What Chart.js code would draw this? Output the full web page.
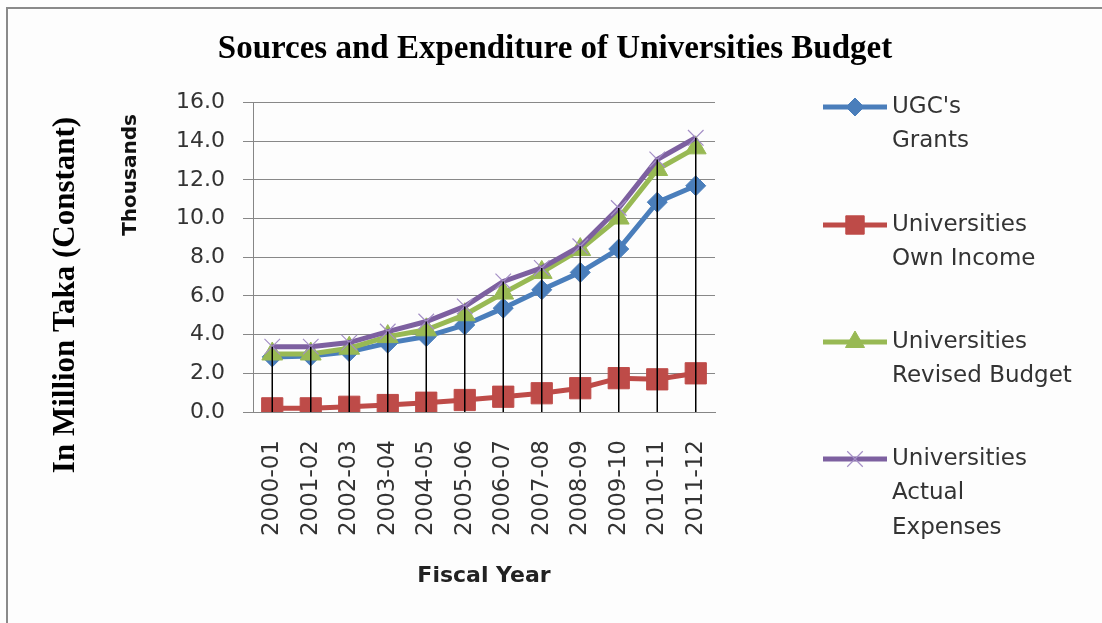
<!DOCTYPE html>
<html>
<head>
<meta charset="utf-8">
<script src="https://cdn.jsdelivr.net/npm/chart.js@4.4.1/dist/chart.umd.min.js"></script>
<style>
  html, body { margin: 0; padding: 0; background: #fdfdfd; }
  #wrap { position: relative; width: 1102px; height: 623px; }
  #frame { position: absolute; left: 6px; top: 7px; right: 0; bottom: 0;
           border-top: 2px solid #8a8a8a; border-left: 2px solid #8a8a8a; pointer-events: none; }
</style>
</head>
<body>
<div id="wrap">
  <canvas id="chart" width="1102" height="623"></canvas>
  <div id="frame"></div>
</div>
<script>
// fiscal years on the x axis
const years = ['2000-01', '2001-02', '2002-03', '2003-04', '2004-05', '2005-06',
               '2006-07', '2007-08', '2008-09', '2009-10', '2010-11', '2011-12'];

// values in thousands of million Taka
const ugcGrants      = [2.85, 2.90, 3.12, 3.56, 3.90, 4.50, 5.37, 6.32, 7.22, 8.43, 10.85, 11.70];
const ownIncome      = [0.19, 0.19, 0.27, 0.36, 0.48, 0.62, 0.79, 0.97, 1.23, 1.75, 1.69, 2.00];
const revisedBudget  = [3.00, 3.00, 3.30, 3.90, 4.25, 5.03, 6.15, 7.22, 8.40, 10.03, 12.54, 13.66];
const actualExpenses = [3.38, 3.38, 3.59, 4.16, 4.68, 5.46, 6.75, 7.45, 8.57, 10.55, 13.06, 14.18];

const legendLines = [
  ["UGC's", 'Grants'],
  ['Universities', 'Own Income'],
  ['Universities', 'Revised Budget'],
  ['Universities', 'Actual', 'Expenses']
];

const sans = '"DejaVu Sans", sans-serif';
const serif = '"Liberation Serif", "DejaVu Serif", serif';

// black drop lines from the highest point of each year down to zero
const dropLines = {
  id: 'dropLines',
  afterDatasetsDraw(chart) {
    const { ctx, scales: { x, y } } = chart;
    ctx.save();
    ctx.strokeStyle = '#000';
    ctx.lineWidth = 1.5;
    years.forEach((_, i) => {
      let top = -Infinity;
      chart.data.datasets.forEach(ds => { top = Math.max(top, ds.data[i]); });
      const px = x.getPixelForValue(i);
      ctx.beginPath();
      ctx.moveTo(px, y.getPixelForValue(top));
      ctx.lineTo(px, y.getPixelForValue(0));
      ctx.stroke();
    });
    ctx.restore();
  }
};

// the two rotated titles on the left sit off-centre in the original, so place them by hand
const leftTitles = {
  id: 'leftTitles',
  afterDraw(chart) {
    const { ctx } = chart;
    const put = (text, font, color, cx, cy) => {
      ctx.save();
      ctx.translate(cx, cy);
      ctx.rotate(-Math.PI / 2);
      ctx.font = font;
      ctx.fillStyle = color;
      ctx.textAlign = 'center';
      ctx.textBaseline = 'middle';
      ctx.fillText(text, 0, 0);
      ctx.restore();
    };
    put('In Million Taka (Constant)', 'bold 31px ' + serif, '#000', 66, 295);
    put('Thousands', 'bold 20px ' + sans, '#111', 131, 175);
  }
};

// legend on the right with wrapped labels, like the spreadsheet one
const sideLegend = {
  id: 'sideLegend',
  afterDraw(chart) {
    const { ctx } = chart;
    const lineX0 = 823, lineX1 = 887, textX = 892;
    const rows = [107, 225, 342, 459];
    ctx.save();
    chart.data.datasets.forEach((ds, i) => {
      const yy = rows[i];
      ctx.strokeStyle = ds.borderColor;
      ctx.lineWidth = 5;
      ctx.beginPath();
      ctx.moveTo(lineX0, yy);
      ctx.lineTo(lineX1, yy);
      ctx.stroke();
      ctx.fillStyle = ds.pointBackgroundColor;
      ctx.strokeStyle = ds.pointBorderColor;
      ctx.lineWidth = ds.pointBorderWidth;
      Chart.helpers.drawPoint(ctx, { pointStyle: ds.pointStyle, radius: ds.legendRadius, borderWidth: ds.pointBorderWidth, rotation: 0 }, (lineX0 + lineX1) / 2, yy);
      ctx.fillStyle = '#333';
      ctx.font = '23px ' + sans;
      ctx.textBaseline = 'middle';
      ctx.textAlign = 'left';
      legendLines[i].forEach((t, k) => ctx.fillText(t, textX, yy + k * 34.5));
    });
    ctx.restore();
  }
};

new Chart(document.getElementById('chart'), {
  type: 'line',
  data: {
    labels: years,
    datasets: [
      {
        label: "UGC's Grants",
        data: ugcGrants,
        borderColor: '#4a7ebb',
        backgroundColor: '#4a7ebb',
        pointBackgroundColor: '#4a7ebb',
        pointBorderColor: '#4a7ebb',
        pointBorderWidth: 1,
        pointStyle: 'rectRot',
        pointRadius: 10,
        legendRadius: 9,
        borderWidth: 5,
        order: 4
      },
      {
        label: 'Universities Own Income',
        data: ownIncome,
        borderColor: '#be4b48',
        backgroundColor: '#be4b48',
        pointBackgroundColor: '#be4b48',
        pointBorderColor: '#be4b48',
        pointBorderWidth: 1,
        pointStyle: 'rect',
        pointRadius: 15,
        legendRadius: 13,
        borderWidth: 5,
        order: 3
      },
      {
        label: 'Universities Revised Budget',
        data: revisedBudget,
        borderColor: '#98b954',
        backgroundColor: '#98b954',
        pointBackgroundColor: '#98b954',
        pointBorderColor: '#98b954',
        pointBorderWidth: 1,
        pointStyle: 'triangle',
        pointRadius: 12,
        legendRadius: 11,
        borderWidth: 5,
        order: 2
      },
      {
        label: 'Universities Actual Expenses',
        data: actualExpenses,
        borderColor: '#7d60a0',
        backgroundColor: '#7d60a0',
        pointBackgroundColor: '#b4a3d0',
        pointBorderColor: '#a48fc6',
        pointBorderWidth: 1.2,
        pointStyle: 'crossRot',
        pointRadius: 11,
        legendRadius: 11,
        borderWidth: 5,
        order: 1
      }
    ]
  },
  options: {
    responsive: false,
    animation: false,
    layout: { padding: { left: 8, right: 0, top: 0, bottom: 30 } },
    plugins: {
      legend: { display: false },
      tooltip: { enabled: false },
      title: {
        display: true,
        text: 'Sources and Expenditure of Universities Budget',
        color: '#000',
        font: { family: serif, size: 33, weight: 'bold' },
        padding: { top: 30, bottom: 33 }
      }
    },
    scales: {
      x: {
        offset: true,
        grid: { display: false, drawTicks: false },
        border: { color: '#868686', width: 1 },
        ticks: {
          autoSkip: false,
          minRotation: 90,
          maxRotation: 90,
          padding: 28,
          color: '#333',
          font: { family: sans, size: 23 }
        },
        title: {
          display: true,
          text: 'Fiscal Year',
          color: '#222',
          font: { family: sans, size: 22, weight: 'bold' }
        },
        afterFit(s) { s.height = 181; }
      },
      y: {
        min: 0,
        max: 16,
        grid: { color: '#888', lineWidth: 1, tickLength: 10 },
        border: { color: '#868686', width: 1 },
        ticks: {
          stepSize: 2,
          padding: 18,
          color: '#333',
          font: { family: sans, size: 22 },
          callback: v => v.toFixed(1)
        },
        afterFit(s) { s.width = 245; }
      },
      // empty box on the right that leaves room for the legend
      side: {
        position: 'right',
        grid: { display: false, drawTicks: false },
        border: { display: false },
        ticks: { display: false },
        afterFit(s) { s.width = 387; }
      }
    }
  },
  plugins: [dropLines, leftTitles, sideLegend]
});
</script>
</body>
</html>
